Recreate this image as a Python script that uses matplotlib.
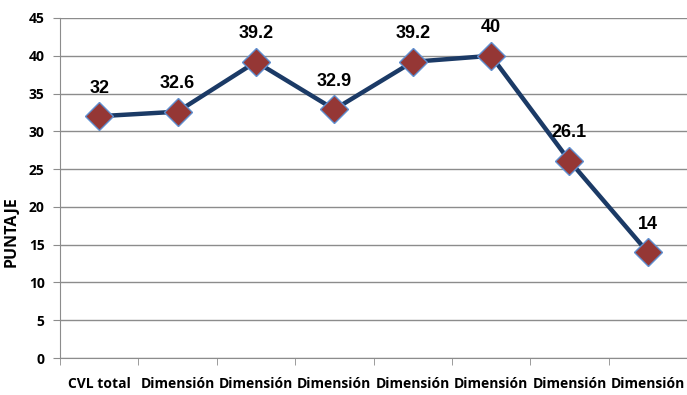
import matplotlib.pyplot as plt
import numpy as np

categories = ["CVL total", "Dimensión", "Dimensión", "Dimensión",
              "Dimensión", "Dimensión", "Dimensión", "Dimensión"]
puntaje = [32, 32.6, 39.2, 32.9, 39.2, 40, 26.1, 14]
labels = ["32", "32.6", "39.2", "32.9", "39.2", "40", "26.1", "14"]

fig = plt.figure(figsize=(6.87, 3.95), dpi=100)
ax = fig.add_axes([60 / 687, 37 / 395, 627 / 687, 340 / 395])

x = np.arange(len(categories))
ax.plot(x, puntaje, color="#1b3a66", lw=3.2, zorder=3,
        marker="D", markersize=14, markerfacecolor="#953735",
        markeredgecolor="#5f8fd0", markeredgewidth=1.0)

for xi, yi, lab in zip(x, puntaje, labels):
    ax.annotate(lab, (xi, yi), xytext=(0, 14), textcoords="offset points",
                ha="center", va="bottom", fontsize=13, fontweight="bold",
                family="Liberation Sans")

ax.set_xlim(-0.5, len(categories) - 0.5)
ax.set_ylim(0, 45)
ax.set_yticks(np.arange(0, 46, 5))
ax.yaxis.grid(True, color="#8c8c8c", lw=1)
ax.set_axisbelow(True)

# category labels centred, tick marks at the boundaries
ax.set_xticks(x)
ax.set_xticklabels(categories, fontsize=10, fontweight="bold", family="Open Sans")
ax.set_xticks(np.arange(-0.5, len(categories)), minor=True)
ax.tick_params(axis="x", which="major", length=0, pad=14)
ax.tick_params(axis="x", which="minor", length=5, color="#8c8c8c", direction="out")
ax.tick_params(axis="y", length=5, color="#8c8c8c", pad=6)
for t in ax.get_yticklabels():
    t.set_fontsize(10)
    t.set_fontweight("bold")
    t.set_family("Open Sans")

for side in ["top", "right"]:
    ax.spines[side].set_visible(False)
for side in ["left", "bottom"]:
    ax.spines[side].set_color("#8c8c8c")

fig.text(12 / 687, 1 - 232 / 395, "PUNTAJE", rotation=90, ha="center", va="center",
         fontsize=11.5, fontweight="bold", family="Open Sans")

fig.savefig("out.png", dpi=100)
